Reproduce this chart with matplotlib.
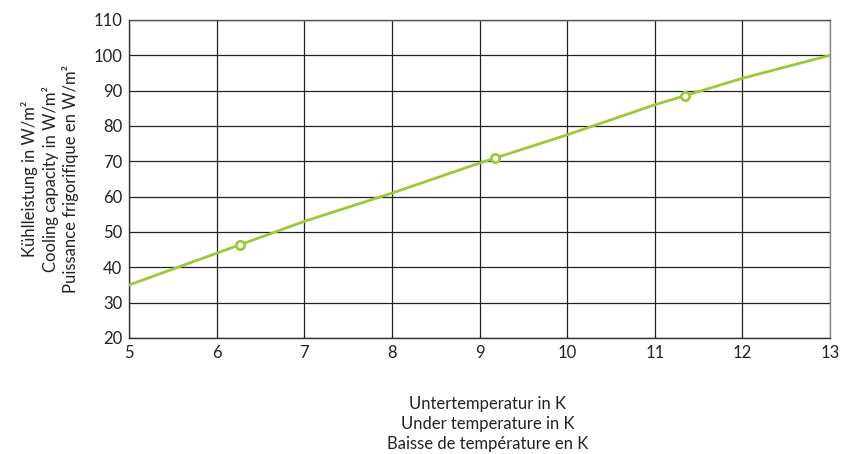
import matplotlib
matplotlib.use('Agg')
import matplotlib.pyplot as plt

# data
line_x = [5, 6, 7, 8, 9, 10, 11, 12, 13]
line_y = [35, 44, 53, 61, 69.5, 77.5, 86, 93.5, 100]
mark_x = [6.27, 9.18, 11.35]
mark_y = [46.2, 71, 88.5]
x_ticks = [5, 6, 7, 8, 9, 10, 11, 12, 13]
y_ticks = [20, 30, 40, 50, 60, 70, 80, 90, 100, 110]

green = '#9cc83a'
plt.rcParams['font.family'] = ['Lato', 'DejaVu Sans']

fig = plt.figure(figsize=(8.56, 4.54), dpi=100)
ax = fig.add_axes([129/856, 1 - 338/454, 701/856, 318/454])

ax.plot(line_x, line_y, color=green, lw=2, zorder=3)
ax.plot(mark_x, mark_y, 'o', ms=6, mfc='white', mec=green, mew=2, zorder=4)

ax.set_xlim(5, 13)
ax.set_ylim(20, 110)
ax.set_xticks(x_ticks)
ax.set_yticks(y_ticks)
ax.grid(True, color='#222222', lw=0.9)
ax.tick_params(length=0, labelsize=12, colors='#222222', pad=5)
for s in ax.spines.values():
    s.set_color('#333333')
    s.set_linewidth(1)
ax.spines['right'].set_color('#888888')
ax.spines['top'].set_color('#555555')

ax.set_ylabel('Kühlleistung in W/m²\nCooling capacity in W/m²\nPuissance frigorifique en W/m²',
              fontsize=12, color='#222222', labelpad=10, linespacing=1.25)
fig.text(488/856, 1 - 424/454,
         'Untertemperatur in K\nUnder temperature in K\nBaisse de température en K',
         ha='center', va='center', fontsize=12, color='#222222', linespacing=1.3)

fig.savefig('out.png', dpi=100)
